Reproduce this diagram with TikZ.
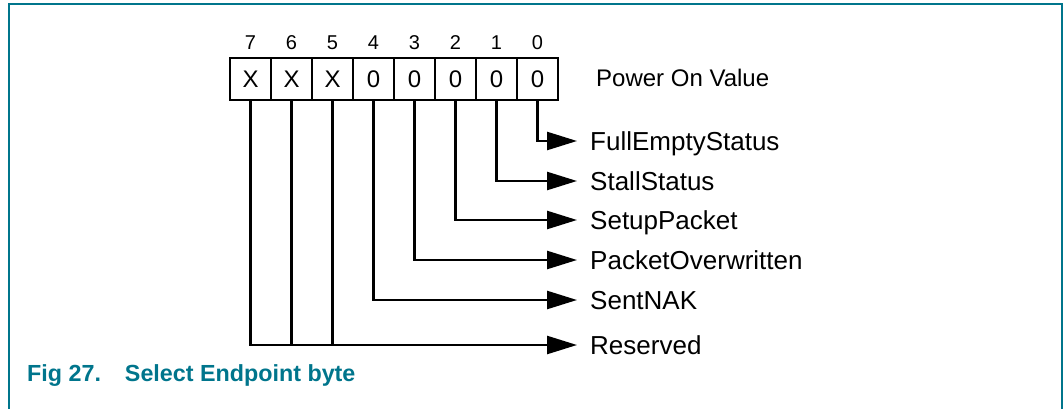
\documentclass[tikz,border=0pt]{standalone}
\usepackage{fontspec}
\setmainfont{Liberation Sans}
\usetikzlibrary{arrows.meta}
\definecolor{figteal}{RGB}{0,117,140}
\tikzset{
  cell/.style={draw,line width=2.5pt,minimum width=41pt,minimum height=42pt,inner sep=0pt,
    font=\fontsize{24}{26}\selectfont},
  bitno/.style={inner sep=0pt,font=\fontsize{20}{22}\selectfont},
  field/.style={anchor=west,inner xsep=13pt,inner ysep=0pt,text height=18pt,text depth=0pt,
    font=\fontsize{26}{30}\selectfont},
  feed/.style={line width=2.5pt,-{Triangle[length=30pt,width=18pt]}},
}
\begin{document}
\begin{tikzpicture}[x=1pt,y=-1pt]
                \useasboundingbox (0,0) rectangle (1064,409);
                \draw[figteal,line width=2pt] (9,409) -- (9,4) -- (1062,4) -- (1062,409);
                % the byte, bit 7 on the left
                \foreach \v [count=\i from 0] in {X,X,X,0,0,0,0,0}{
                    \node[cell] (c\i) at (250.5+41*\i,79) {\v};
                    \pgfmathtruncatemacro{\b}{7-\i}
                    \node[bitno] (n\i) at (250.5+41*\i,43) {\b};
                }
                \node[field,font=\fontsize{24}{28}\selectfont,text height=17pt] (pov) at (583,78) {Power On Value};
                % field names
                \node[field] (fes) at (577,141) {FullEmptyStatus};
                \node[field] (stall) at (577,181) {StallStatus};
                \node[field] (setup) at (577,220) {SetupPacket};
                \node[field] (povw) at (577,260) {PacketOverwritten};
                \node[field] (nak) at (577,300) {SentNAK};
                \node[field] (res) at (577,345) {Reserved};
                \draw[feed] (c7.south) |- (fes.west);
                \draw[feed] (c6.south) |- (stall.west);
                \draw[feed] (c5.south) |- (setup.west);
                \draw[feed] (c4.south) |- (povw.west);
                \draw[feed] (c3.south) |- (nak.west);
                \draw[feed] (c0.south) |- (res.west);
                \draw[line width=2.5pt] (c1.south) -- (c1.south |- res.west);
                \draw[line width=2.5pt] (c2.south) -- (c2.south |- res.west);
                \node[anchor=base west,inner sep=0pt,text=figteal,font=\fontsize{23.3}{26}\selectfont\bfseries]
                    (cap) at (27,381) {Fig 27.\hspace{24pt}Select Endpoint byte};
            \end{tikzpicture}
\end{document}
